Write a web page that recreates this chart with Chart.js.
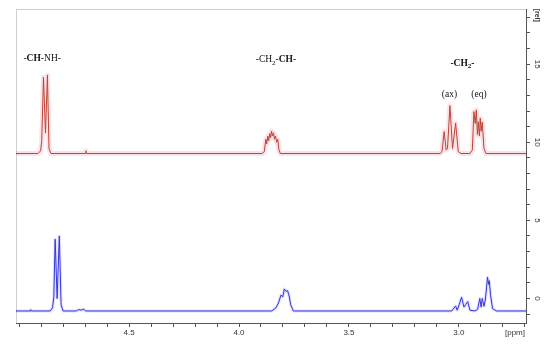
<!DOCTYPE html>
<html>
<head>
<meta charset="utf-8">
<script src="https://cdn.jsdelivr.net/npm/chart.js@4.4.1/dist/chart.umd.min.js"></script>
<style>
  html, body { margin: 0; padding: 0; background: #fff; }
  #wrap { width: 550px; height: 344px; }
</style>
</head>
<body>
<div id="wrap"><canvas id="nmr" width="550" height="344"></canvas></div>
<script>
// upper (red) spectrum: ppm / intensity
const redPpm = [
  5.014, 4.914, 4.902, 4.897, 4.889, 4.880, 4.871, 4.864, 4.855,
  4.700, 4.696, 4.692,
  3.895, 3.885, 3.878, 3.874, 3.869, 3.865, 3.860, 3.856, 3.852, 3.848,
  3.843, 3.839, 3.834, 3.829, 3.824, 3.818, 3.812,
  3.086, 3.077, 3.067, 3.058, 3.052, 3.041, 3.029, 3.015, 3.003, 2.991,
  2.950, 2.939, 2.932, 2.926, 2.921, 2.916, 2.912, 2.907, 2.903, 2.899,
  2.894, 2.886, 2.877, 2.695
];
const redInt = [
  9.28, 9.28, 9.45, 10.1, 14.16, 10.6, 14.31, 9.6, 9.28,
  9.28, 9.45, 9.28,
  9.28, 9.4, 10.2, 9.9, 10.4, 10.1, 10.55, 10.3, 10.72, 10.4,
  10.6, 10.2, 10.4, 10.0, 10.2, 9.5, 9.28,
  9.28, 9.4, 10.68, 9.5, 9.6, 12.34, 9.6, 11.22, 9.4, 9.28,
  9.28, 9.5, 11.96, 11.2, 12.07, 10.5, 11.32, 10.4, 11.54, 10.7,
  11.3, 9.6, 9.28, 9.28
];

// lower (blue) spectrum
const bluePpm = [
  5.014, 4.950, 4.947, 4.944, 4.859, 4.848, 4.842, 4.836, 4.827, 4.817,
  4.809, 4.800, 4.740, 4.730, 4.715, 4.706, 4.698,
  3.851, 3.832, 3.821, 3.809, 3.801, 3.794, 3.786, 3.779, 3.771, 3.765, 3.753,
  3.033, 3.015, 3.008, 2.999, 2.988, 2.977, 2.970, 2.960, 2.950,
  2.927, 2.915, 2.905, 2.899, 2.894, 2.886, 2.880, 2.874, 2.870, 2.865,
  2.862, 2.856, 2.847, 2.829, 2.695
];
const blueInt = [
  -0.8, -0.8, -0.72, -0.8, -0.8, -0.6, 0.1, 3.79, 0.0, 4.0,
  -0.4, -0.8, -0.8, -0.72, -0.74, -0.68, -0.8,
  -0.8, -0.6, -0.3, 0.22, 0.1, 0.61, 0.45, 0.5, 0.1, -0.4, -0.8,
  -0.8, -0.48, -0.75, -0.4, 0.08, -0.55, -0.4, -0.2, -0.75,
  -0.8, -0.7, 0.0, -0.55, 0.0, -0.5, -0.1, 0.75, 1.36, 0.9,
  1.14, 0.2, -0.65, -0.8, -0.8
];

// axis ticks
const ppmTicks = [2.7, 2.8, 2.9, 3.0, 3.1, 3.2, 3.3, 3.4, 3.5, 3.6, 3.7, 3.8,
  3.9, 4.0, 4.1, 4.2, 4.3, 4.4, 4.5, 4.6, 4.7, 4.8, 4.9, 5.0];
const ppmLabels = [3.0, 3.5, 4.0, 4.5];
const relTicks = [-1, 0, 1, 2, 3, 4, 5, 6, 7, 8, 9, 10, 11, 12, 13, 14, 15, 16, 17, 18];
const relLabels = [0, 5, 10, 15];

const toPoints = (xs, ys) => xs.map((x, i) => ({ x: x, y: ys[i] }));

// annotation pieces: [text, bold, subscript]
const peakNotes = [
  { ppm: 4.895, rel: 15.4, parts: [['-', false], ['CH', true], ['-NH-', false]] },
  { ppm: 3.832, rel: 15.3, parts: [['-CH', false], ['2', false, true], ['-', false], ['CH', true], ['-', false]] },
  { ppm: 2.984, rel: 15.1, parts: [['-CH', true], ['2', true, true], ['-', true]] },
  { ppm: 3.043, rel: 13.1, parts: [['(ax)', false]] },
  { ppm: 2.909, rel: 13.1, parts: [['(eq)', false]] }
];

const fontFor = (bold, sub) =>
  (bold ? 'bold ' : '') + (sub ? '7px' : '9.5px') + ' "Liberation Serif", serif';

const decorations = {
  id: 'decorations',
  beforeDraw(chart) {
    const { ctx, chartArea: a } = chart;
    ctx.save();
    ctx.strokeStyle = '#cfcfcf';
    ctx.lineWidth = 1;
    ctx.strokeRect(a.left + 0.5, a.top + 0.5, a.right - a.left, a.bottom - a.top);
    ctx.restore();
  },
  afterDraw(chart) {
    const { ctx } = chart;
    const xs = chart.scales.x;
    const ys = chart.scales.y;
    ctx.save();

    // rotated y labels on the right
    ctx.fillStyle = '#333';
    ctx.font = '8px "Liberation Sans", Arial, sans-serif';
    ctx.textAlign = 'center';
    ctx.textBaseline = 'middle';
    const labelX = ys.left + 11;
    relLabels.forEach(v => {
      ctx.save();
      ctx.translate(labelX, ys.getPixelForValue(v));
      ctx.rotate(Math.PI / 2);
      ctx.fillText(String(v), 0, 0);
      ctx.restore();
    });
    ctx.save();
    ctx.font = 'bold 7px "Liberation Sans", Arial, sans-serif';
    ctx.translate(labelX, ys.getPixelForValue(18) - 2);
    ctx.rotate(Math.PI / 2);
    ctx.fillText('[rel]', 0, 0);
    ctx.restore();

    // unit on the x axis
    ctx.font = '8px "Liberation Sans", Arial, sans-serif';
    ctx.fillText('[ppm]', xs.getPixelForValue(2.745), xs.top + 10);

    // peak assignments
    ctx.fillStyle = '#111';
    ctx.textAlign = 'left';
    ctx.textBaseline = 'alphabetic';
    peakNotes.forEach(n => {
      let w = 0;
      n.parts.forEach(p => { ctx.font = fontFor(p[1], p[2]); w += ctx.measureText(p[0]).width; });
      let x = xs.getPixelForValue(n.ppm) - w / 2;
      const y = ys.getPixelForValue(n.rel) + 3;
      n.parts.forEach(p => {
        ctx.font = fontFor(p[1], p[2]);
        ctx.fillText(p[0], x, p[2] ? y + 2.5 : y);
        x += ctx.measureText(p[0]).width;
      });
    });
    ctx.restore();
  }
};

const lineStyle = {
  pointRadius: 0,
  tension: 0,
  borderJoinStyle: 'round',
  borderCapStyle: 'round'
};

new Chart(document.getElementById('nmr'), {
  type: 'line',
  data: {
    datasets: [
      Object.assign({
        label: 'upper',
        data: toPoints(redPpm, redInt),
        borderColor: '#bb4536',
        borderWidth: 1
      }, lineStyle),
      Object.assign({
        label: 'lower',
        data: toPoints(bluePpm, blueInt),
        borderColor: '#3434dc',
        borderWidth: 1
      }, lineStyle),
      Object.assign({
        label: 'upper halo',
        data: toPoints(redPpm, redInt),
        borderColor: 'rgba(240, 120, 140, 0.22)',
        borderWidth: 5
      }, lineStyle),
      Object.assign({
        label: 'lower halo',
        data: toPoints(bluePpm, blueInt),
        borderColor: 'rgba(110, 110, 250, 0.22)',
        borderWidth: 3
      }, lineStyle)
    ]
  },
  options: {
    responsive: false,
    animation: false,
    events: [],
    layout: { padding: { left: 16, top: 9, right: 0, bottom: 0 } },
    plugins: {
      legend: { display: false },
      tooltip: { enabled: false }
    },
    scales: {
      x: {
        type: 'linear',
        reverse: true,
        min: 2.695,
        max: 5.014,
        afterBuildTicks: s => { s.ticks = ppmTicks.map(v => ({ value: v })); },
        afterFit: s => { s.height = 21; },
        grid: {
          display: true,
          drawOnChartArea: false,
          drawTicks: true,
          tickLength: 4,
          color: '#555'
        },
        border: { display: true, color: '#555', width: 1 },
        ticks: {
          autoSkip: false,
          maxRotation: 0,
          minRotation: 0,
          padding: 1,
          color: '#333',
          font: { family: '"Liberation Sans", Arial, sans-serif', size: 8 },
          callback: v => ppmLabels.some(l => Math.abs(l - v) < 1e-6) ? v.toFixed(1) : ''
        }
      },
      y: {
        type: 'linear',
        position: 'right',
        min: -1.57,
        max: 18.53,
        afterBuildTicks: s => { s.ticks = relTicks.map(v => ({ value: v })); },
        afterFit: s => { s.width = 24; },
        grid: {
          display: true,
          drawOnChartArea: false,
          drawTicks: true,
          tickLength: 4,
          color: '#555'
        },
        border: { display: true, color: '#555', width: 1 },
        ticks: { display: false }
      }
    }
  },
  plugins: [decorations]
});
</script>
</body>
</html>
